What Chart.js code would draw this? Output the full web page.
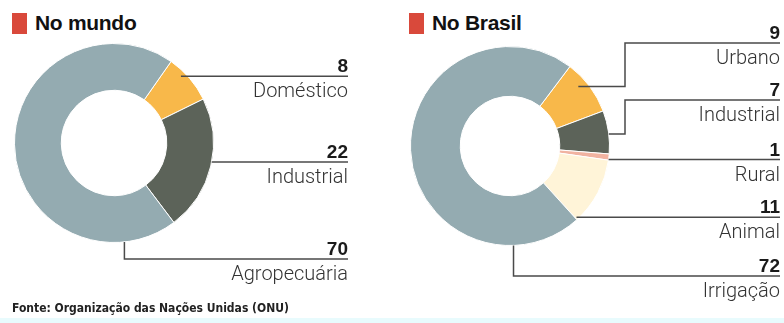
<!DOCTYPE html>
<html>
<head>
<meta charset="utf-8">
<script src="https://cdn.jsdelivr.net/npm/chart.js@4"></script>
<style>
  body { margin: 0; background: #fff; width: 784px; height: 323px; position: relative; overflow: hidden; }
  canvas { position: absolute; top: 0; }
  .title { position: absolute; top: 12px; font: bold 21px "Liberation Sans", Arial, sans-serif; line-height: 21px; color: #111; letter-spacing: -0.3px; }
  .title span { display: inline-block; width: 15px; height: 21px; background: #d9493b; vertical-align: top; margin-right: 8px; position: relative; top: 1px; }
  .fonte { position: absolute; left: 12px; top: 301px; font: bold 12px "Liberation Sans Narrow", "DejaVu Sans Condensed", sans-serif; color: #222; }
  .strip { position: absolute; left: 0; top: 318px; width: 784px; height: 5px; background: #e8fbfd; }
</style>
</head>
<body>
<div class="title" style="left:12px"><span></span>No mundo</div>
<div class="title" style="left:409px"><span></span>No Brasil</div>
<canvas id="mundo" width="392" height="323" style="left:0"></canvas>
<canvas id="brasil" width="392" height="323" style="left:392px"></canvas>
<div class="fonte">Fonte: Organização das Nações Unidas (ONU)</div>
<div class="strip"></div>
<script>
const mundoLabels = ['Doméstico', 'Industrial', 'Agropecuária'];
const mundoValues = [8, 22, 70];
const brasilLabels = ['Urbano', 'Industrial', 'Rural', 'Animal', 'Irrigação'];
const brasilValues = [9, 7, 1, 11, 72];

const mundoColors = ['#f8b84a', '#5c6359', '#94abb1'];
const brasilColors = ['#f8b84a', '#5c6359', '#f1b3a1', '#fff4d8', '#94abb1'];

// desenha as linhas de chamada e os rótulos ao lado de cada fatia
const leaders = {
    id: 'leaders',
    afterDraw(chart, args, opts) {
        const ctx = chart.ctx;
        const meta = chart.getDatasetMeta(0);
        const values = chart.data.datasets[0].data;
        ctx.save();
        meta.data.forEach((arc, i) => {
            const o = opts.items[i];
            const p = arc.getProps(['x', 'y', 'startAngle', 'endAngle', 'outerRadius']);
            const a = p.startAngle + (p.endAngle - p.startAngle) * o.t;
            const r = p.outerRadius * (o.rf || 1);
            const ax = p.x + r * Math.cos(a);
            const ay = p.y + r * Math.sin(a);
            let lineY = ay;
            ctx.strokeStyle = '#4a4a4a';
            ctx.lineWidth = 1.5;
            ctx.beginPath();
            ctx.moveTo(ax, ay);
            if (o.mode === 'elbow') {
                ctx.lineTo(o.elbowX, ay);
                ctx.lineTo(o.elbowX, o.lineY);
                lineY = o.lineY;
            } else if (o.mode === 'down') {
                ctx.lineTo(ax, o.lineY);
                lineY = o.lineY;
            }
            ctx.lineTo(opts.endX, lineY);
            ctx.stroke();

            ctx.textAlign = 'right';
            ctx.fillStyle = '#1a1a1a';
            ctx.font = 'bold 19px "Liberation Sans", Arial, sans-serif';
            ctx.fillText(values[i], opts.endX, lineY - 4);
            ctx.fillStyle = '#333';
            ctx.font = '300 20px Roboto, sans-serif';
            ctx.fillText(chart.data.labels[i], opts.endX, lineY + 21);
        });
        ctx.restore();
    }
};

function donut(id, labels, values, colors, rotation, cutout, padding, leaderOpts) {
    return new Chart(document.getElementById(id), {
        type: 'doughnut',
        data: {
            labels: labels,
            datasets: [{
                data: values,
                backgroundColor: colors,
                borderColor: '#ffffff',
                borderWidth: 1,
            }],
        },
        options: {
            responsive: false,
            animation: false,
            rotation: rotation,
            cutout: cutout,
            layout: { padding: padding },
            plugins: {
                legend: { display: false },
                tooltip: { enabled: false },
                leaders: leaderOpts,
            },
        },
        plugins: [leaders],
    });
}

donut('mundo', mundoLabels, mundoValues, mundoColors, 35, '53%',
    { left: 14, top: 43, right: 178, bottom: 80 },
    {
        endX: 348,
        items: [
            { t: 0.35, rf: 0.95, mode: 'h' },
            { t: 0.47, rf: 1, mode: 'h' },
            { t: 0.123, rf: 1, mode: 'down', lineY: 259 },
        ],
    });

donut('brasil', brasilLabels, brasilValues, brasilColors, 37, '50%',
    { left: 18, top: 46, right: 174, bottom: 77 },
    {
        endX: 388,
        items: [
            { t: 0.37, rf: 0.91, mode: 'elbow', elbowX: 233, lineY: 43 },
            { t: 0.54, rf: 1, mode: 'elbow', elbowX: 233, lineY: 100 },
            { t: 0.9, rf: 1, mode: 'h' },
            { t: 0.98, rf: 0.98, mode: 'h' },
            { t: 0.155, rf: 1, mode: 'down', lineY: 276 },
        ],
    });
</script>
</body>
</html>
